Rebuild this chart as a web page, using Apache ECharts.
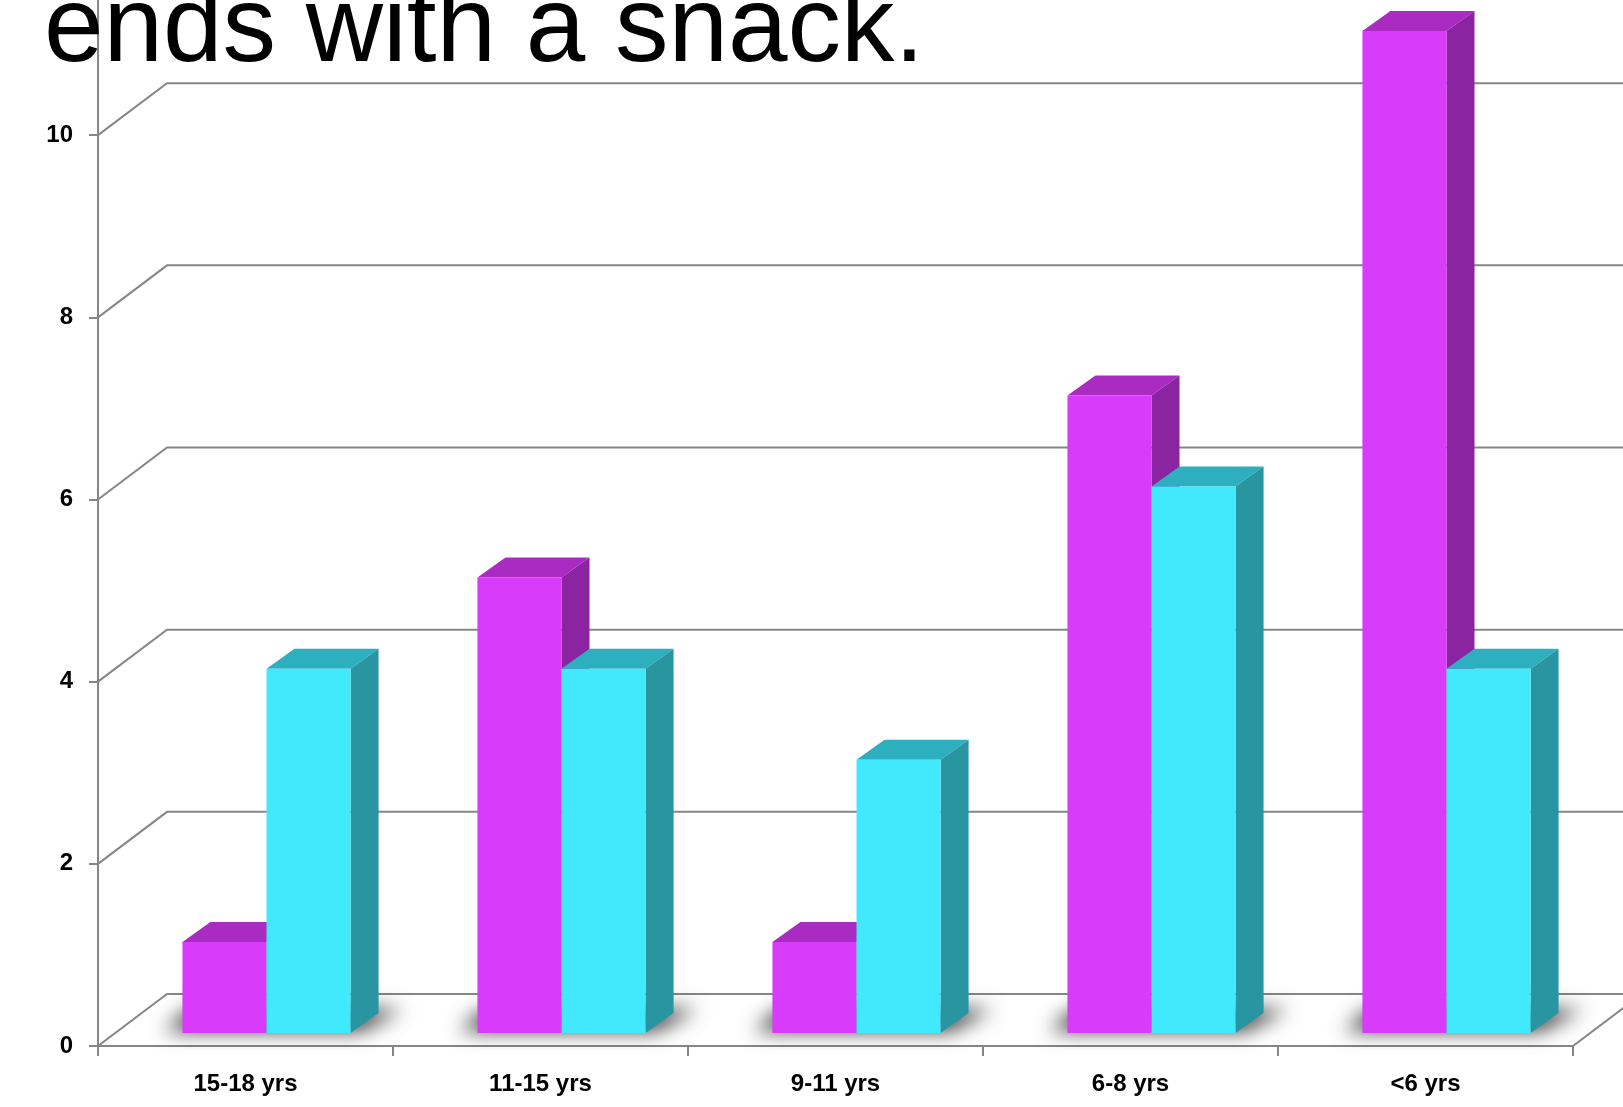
<!DOCTYPE html>
<html>
<head>
<meta charset="utf-8">
<script src="https://cdn.jsdelivr.net/npm/echarts@6/dist/echarts.min.js"></script>
<style>
html,body{margin:0;padding:0;background:#fff;}
#chart{width:1623px;height:1107px;}
</style>
</head>
<body>
<div id="chart"></div>
<script>
// ---- data ----
const categories = ['15-18 yrs', '11-15 yrs', '9-11 yrs', '6-8 yrs', '<6 yrs'];
const purpleValues = [1, 5, 1, 7, 11];
const cyanValues = [4, 4, 3, 6, 4];
const yTicks = [0, 2, 4, 6, 8, 10, 12];
const titleText = 'ends with a snack.';

// ---- 3D look constants ----
const BACK_DX = 69, BACK_DY = -52;   // back wall offset
const BAR_SX = 21, BAR_SY = -13;     // bar plane offset from front plane
const BAR_DX = 28, BAR_DY = -20;     // bar depth
const BAR_W_FRAC = 0.285;
const GRID_COLOR = '#868686';
const FAR = 4000;

const purpleColors = {front: '#D93BFA', top: '#A92BC2', side: '#8A24A0'};
const cyanColors = {front: '#40EAFC', top: '#2EAFC0', side: '#2895A0'};

const chart = echarts.init(document.getElementById('chart'), null, {renderer: 'canvas'});

function bandWidth(params) {
  return params.coordSys.width / categories.length;
}

function makeBarRender(sideIdx, colors) {
  return function (params, api) {
    const ci = api.value(0), v = api.value(1);
    const base = api.coord([ci, 0]);
    const top = api.coord([ci, v]);
    const w = bandWidth(params) * BAR_W_FRAC;
    const x0 = base[0] + BAR_SX + (sideIdx === 0 ? -w : 0);
    const x1 = x0 + w;
    const yb = base[1] + BAR_SY;
    const yt = top[1] + BAR_SY;
    return {
      type: 'group',
      children: [
        {type: 'polygon', shape: {points: [[x0, yt], [x1, yt], [x1 + BAR_DX, yt + BAR_DY], [x0 + BAR_DX, yt + BAR_DY]]},
         style: {fill: colors.top}},
        {type: 'polygon', shape: {points: [[x1, yt], [x1 + BAR_DX, yt + BAR_DY], [x1 + BAR_DX, yb + BAR_DY], [x1, yb]]},
         style: {fill: colors.side}},
        {type: 'rect', shape: {x: x0, y: yt, width: w, height: yb - yt},
         style: {fill: colors.front}}
      ]
    };
  };
}

// soft floor shadow: shape drawn far away, only its blurred shadow is brought back
function shadowRender(params, api) {
  const ci = api.value(0);
  const base = api.coord([ci, 0]);
  const w = bandWidth(params) * BAR_W_FRAC;
  const x0 = base[0] + BAR_SX - w;
  const x1 = base[0] + BAR_SX + w;
  const yb = base[1] + BAR_SY;
  const pts = [[x0 - 18, yb - 2], [x1 + 10, yb - 2], [x1 + BAR_DX + 24, yb + BAR_DY - 4], [x0 + BAR_DX - 20, yb + BAR_DY - 4]];
  return {
    type: 'polygon',
    shape: {points: pts.map(p => [p[0] + FAR, p[1]])},
    style: {fill: '#000', shadowBlur: 20, shadowColor: 'rgba(0,0,0,0.8)', shadowOffsetX: -FAR, shadowOffsetY: 0}
  };
}

function gridRender(params, api) {
  const v = api.value(0);
  const p = api.coord([0, v]);
  const left = params.coordSys.x;
  const right = params.coordSys.x + params.coordSys.width;
  const y = p[1];
  const children = [
    {type: 'polyline', shape: {points: [[left, y], [left + BACK_DX, y + BACK_DY], [right + BACK_DX + 40, y + BACK_DY]]},
     style: {stroke: GRID_COLOR, lineWidth: 2, fill: null}}
  ];
  if (v === 0) {
    children.push({type: 'line', shape: {x1: right, y1: y, x2: right + BACK_DX, y2: y + BACK_DY},
      style: {stroke: GRID_COLOR, lineWidth: 2}});
  }
  return {type: 'group', children: children};
}

const option = {
  backgroundColor: '#ffffff',
  animation: false,
  grid: {left: 98, right: 50, top: -47, bottom: 61, containLabel: false, outerBoundsMode: 'none'},
  xAxis: {
    type: 'category',
    data: categories,
    axisLine: {show: true, lineStyle: {color: GRID_COLOR, width: 2}},
    axisTick: {show: true, length: 10, lineStyle: {color: GRID_COLOR, width: 2}},
    axisLabel: {margin: 26, color: '#000', fontSize: 24, fontWeight: 'bold', fontFamily: 'Liberation Sans, Arial, sans-serif'},
    splitLine: {show: false}
  },
  yAxis: {
    type: 'value',
    min: 0, max: 12, interval: 2,
    axisLine: {show: true, lineStyle: {color: GRID_COLOR, width: 2}},
    axisTick: {show: true, length: 9, lineStyle: {color: GRID_COLOR, width: 2}},
    axisLabel: {margin: 25, color: '#000', fontSize: 24, fontWeight: 'bold', fontFamily: 'Liberation Sans, Arial, sans-serif'},
    splitLine: {show: false}
  },
  graphic: [{
    type: 'text',
    x: 44, y: 31, z: 100,
    style: {text: titleText, fill: '#000', font: '107px "Liberation Sans", Arial, sans-serif', align: 'left', verticalAlign: 'middle'}
  }],
  series: [
    {type: 'custom', name: 'grid', z: 1, silent: true, clip: false,
     data: yTicks.map(v => [v]), encode: {y: 0}, renderItem: gridRender},
    {type: 'custom', name: 'shadow', z: 2, silent: true, clip: false,
     data: categories.map((c, i) => [i, 0]), renderItem: shadowRender},
    {type: 'custom', name: 'purple', z: 3, clip: false,
     data: categories.map((c, i) => [i, purpleValues[i]]), renderItem: makeBarRender(0, purpleColors)},
    {type: 'custom', name: 'cyan', z: 4, clip: false,
     data: categories.map((c, i) => [i, cyanValues[i]]), renderItem: makeBarRender(1, cyanColors)}
  ]
};
chart.setOption(option);
</script>
</body>
</html>
